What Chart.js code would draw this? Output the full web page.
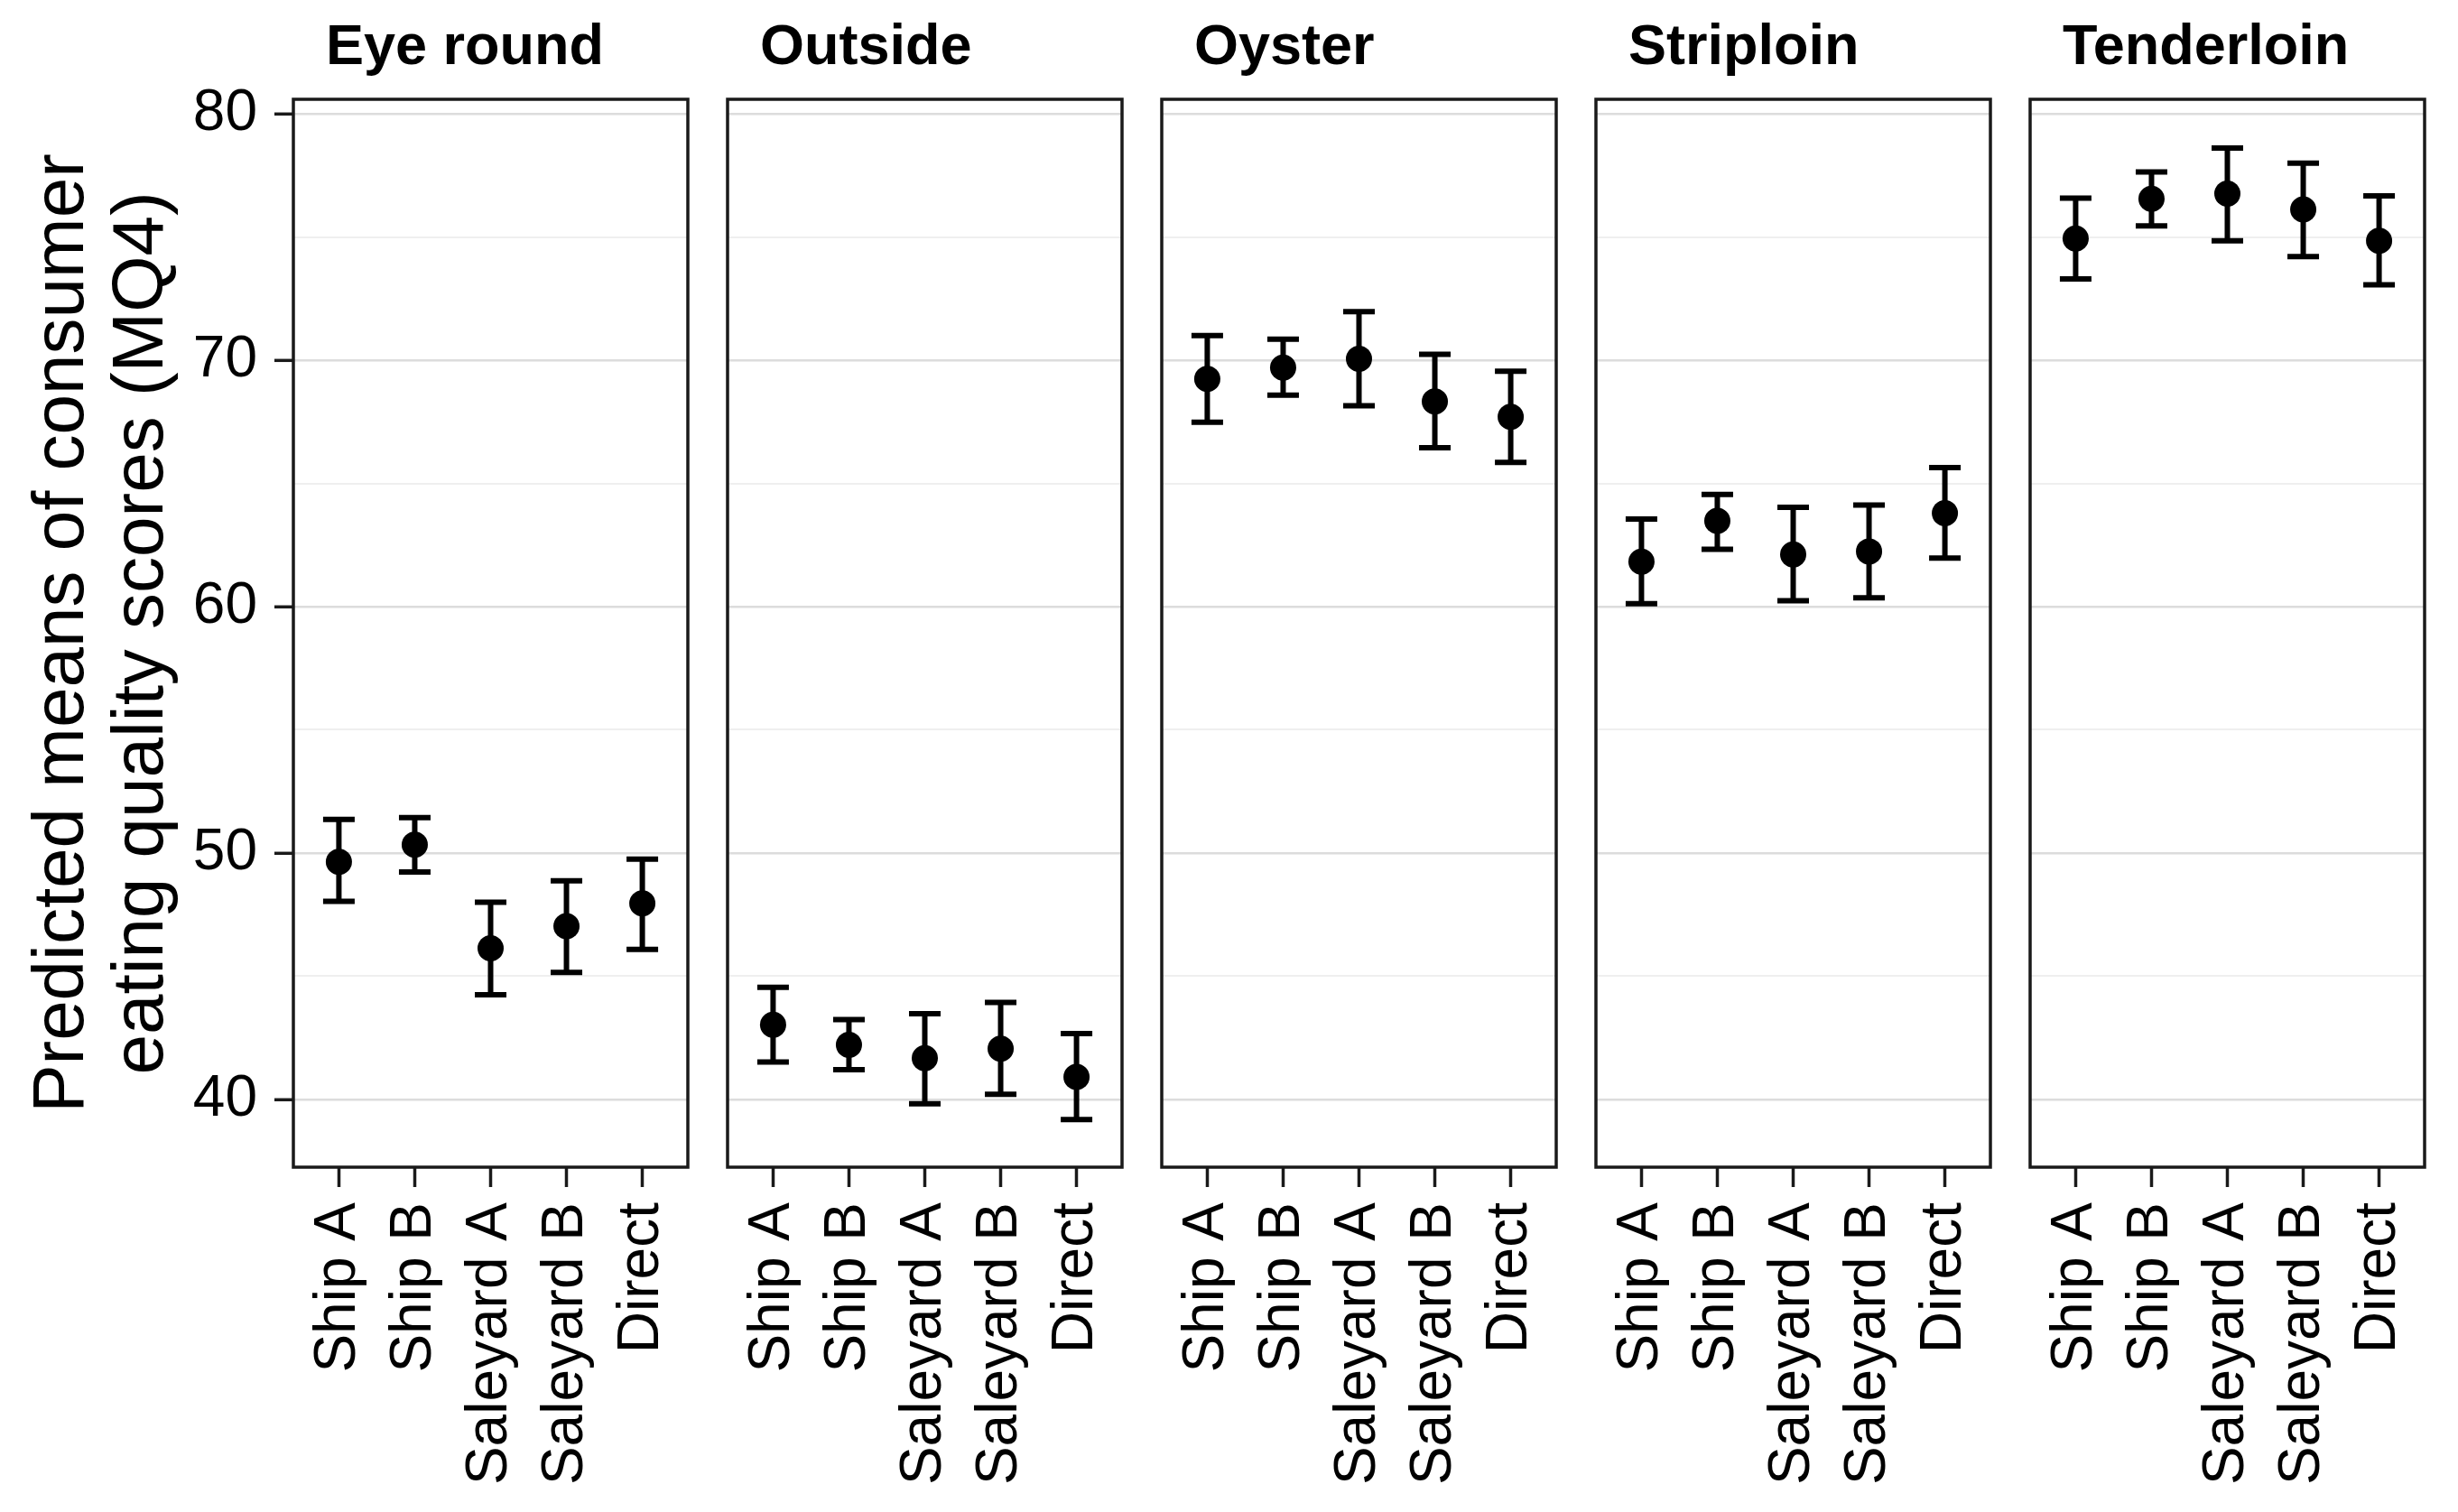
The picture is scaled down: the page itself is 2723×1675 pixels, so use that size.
<!DOCTYPE html>
<html lang="en">
<head>
  <meta charset="UTF-8" />
  <title>Predicted means of consumer eating quality scores (MQ4)</title>
  <style>
    html, body { margin: 0; padding: 0; background: #fff; }
    #wrap { position: relative; width: 2723px; height: 1675px; overflow: hidden; }
    #wrap canvas { position: absolute; top: 0; }
  </style>
  <script src="https://cdn.jsdelivr.net/npm/chart.js"></script>
</head>
<body>
  <div id="wrap"></div>

  <script>
    // Data
    const cuts = ['Eye round', 'Outside', 'Oyster', 'Striploin', 'Tenderloin'];
    const routes = ['Ship A', 'Ship B', 'Saleyard A', 'Saleyard B', 'Direct'];

    // one row per cut, one value per route
    const means = [
      [49.64, 50.34, 46.13, 47.03, 47.96],
      [43.03, 42.21, 41.67, 42.06, 40.91],
      [69.24, 69.70, 70.06, 68.33, 67.70],
      [61.82, 63.48, 62.12, 62.24, 63.79],
      [74.94, 76.55, 76.76, 76.12, 74.85]
    ];
    const lower = [
      [48.04, 49.23, 44.25, 45.15, 46.09],
      [41.52, 41.21, 39.82, 40.21, 39.18],
      [67.48, 68.58, 68.15, 66.45, 65.85],
      [60.12, 62.33, 60.24, 60.36, 61.97],
      [73.30, 75.45, 74.85, 74.21, 73.06]
    ];
    const upper = [
      [51.36, 51.44, 48.00, 48.87, 49.75],
      [44.55, 43.24, 43.48, 43.94, 42.67],
      [71.00, 70.85, 71.97, 70.24, 69.55],
      [63.55, 64.55, 64.03, 64.12, 65.64],
      [76.58, 77.64, 78.61, 78.00, 76.67]
    ];

    const majorTicks = [40, 50, 60, 70, 80];
    const minorTicks = [45, 55, 65, 75];
    const yTitle = ['Predicted means of consumer', 'eating quality scores (MQ4)'];

    // Layout (pixels)
    const panelLeft = [325, 806, 1287, 1768, 2249];
    const panelW = 437;
    const H = 1675;
    const yAxisW = 325;
    const xAxisH = 382;
    const pad = 4;
    const FONT = '"Liberation Sans", Arial, Helvetica, sans-serif';

    // error bars drawn under the points, through the chart's scales
    const errorBars = {
      id: 'errorBars',
      beforeDatasetsDraw(chart) {
        const { ctx, scales: { x, y } } = chart;
        const half = 17.5;
        ctx.save();
        ctx.strokeStyle = '#000';
        ctx.lineWidth = 6;
        chart.data.datasets[0].data.forEach(p => {
          const px = x.getPixelForValue(p.x);
          const yt = y.getPixelForValue(p.hi);
          const yb = y.getPixelForValue(p.lo);
          ctx.beginPath();
          ctx.moveTo(px, yt); ctx.lineTo(px, yb);
          ctx.moveTo(px - half, yt); ctx.lineTo(px + half, yt);
          ctx.moveTo(px - half, yb); ctx.lineTo(px + half, yb);
          ctx.stroke();
        });
        ctx.restore();
      }
    };

    // panel frame + shift strip label a bit right of the panel edge
    const panelFrame = {
      id: 'panelFrame',
      afterLayout(chart) {
        if (chart.titleBlock) {
          chart.titleBlock.left += 36;
          chart.titleBlock.right += 36;
        }
      },
      afterDraw(chart) {
        const a = chart.chartArea;
        const ctx = chart.ctx;
        ctx.save();
        ctx.strokeStyle = '#1a1a1a';
        ctx.lineWidth = 3.5;
        ctx.strokeRect(a.left, a.top, a.right - a.left, a.bottom - a.top);
        ctx.restore();
      }
    };

    const wrap = document.getElementById('wrap');

    cuts.forEach((cut, i) => {
      const first = i === 0;
      const canvas = document.createElement('canvas');
      const left = first ? 0 : panelLeft[i] - pad;
      const width = first ? yAxisW + panelW + pad : panelW + 2 * pad;
      canvas.width = width;
      canvas.height = H;
      canvas.style.left = left + 'px';
      canvas.style.width = width + 'px';
      canvas.style.height = H + 'px';
      wrap.appendChild(canvas);

      const points = routes.map((r, j) => ({ x: j, y: means[i][j], lo: lower[i][j], hi: upper[i][j] }));

      new Chart(canvas, {
        type: 'scatter',
        data: {
          datasets: [{
            data: points,
            backgroundColor: '#000',
            borderWidth: 0,
            pointRadius: 14.5,
            pointHoverRadius: 14.5
          }]
        },
        options: {
          responsive: false,
          animation: false,
          events: [],
          layout: {
            autoPadding: false,
            padding: { left: first ? 0 : pad, right: pad, top: 0, bottom: 0 }
          },
          plugins: {
            legend: { display: false },
            tooltip: { enabled: false },
            title: {
              display: true,
              text: cut,
              align: 'start',
              fullSize: false,
              color: '#000',
              font: { family: FONT, size: 63, weight: 'bold', lineHeight: 1.2 },
              padding: { top: 16, bottom: 18.4 }
            }
          },
          scales: {
            x: {
              type: 'linear',
              min: -0.6,
              max: 4.6,
              afterBuildTicks: s => { s.ticks = routes.map((r, j) => ({ value: j })); },
              afterFit: s => {
                s.height = xAxisH;
                s.paddingLeft = 0;
                s.paddingRight = 0;
              },
              border: { display: false },
              grid: {
                drawOnChartArea: false,
                drawTicks: true,
                tickLength: 22,
                tickColor: '#1a1a1a',
                tickWidth: 3.5
              },
              ticks: {
                autoSkip: false,
                minRotation: 90,
                maxRotation: 90,
                padding: 17,
                color: '#000',
                font: { family: FONT, size: 64 },
                callback: v => routes[v]
              }
            },
            y: {
              min: 37.25,
              max: 80.59,
              afterBuildTicks: s => {
                s.ticks = majorTicks.concat(minorTicks).sort((a, b) => a - b).map(v => ({ value: v }));
              },
              afterFit: s => {
                s.width = first ? yAxisW : 0;
                s.paddingTop = 0;
                s.paddingBottom = 0;
              },
              border: { display: false },
              grid: {
                drawTicks: first,
                tickLength: 21,
                tickWidth: 3.5,
                tickColor: c => majorTicks.includes(c.tick.value) ? '#1a1a1a' : 'rgba(0,0,0,0)',
                color: c => majorTicks.includes(c.tick.value) ? '#dcdcdc' : '#efefef',
                lineWidth: c => majorTicks.includes(c.tick.value) ? 2.6 : 2
              },
              ticks: {
                display: first,
                padding: 19,
                color: '#000',
                font: { family: FONT, size: 64 },
                callback: v => majorTicks.includes(v) ? String(v) : ''
              },
              title: {
                display: first,
                text: yTitle,
                color: '#000',
                font: { family: FONT, size: 80, lineHeight: 1.1 },
                padding: { top: 26, bottom: 0 }
              }
            }
          }
        },
        plugins: [errorBars, panelFrame]
      });
    });
  </script>
</body>
</html>
